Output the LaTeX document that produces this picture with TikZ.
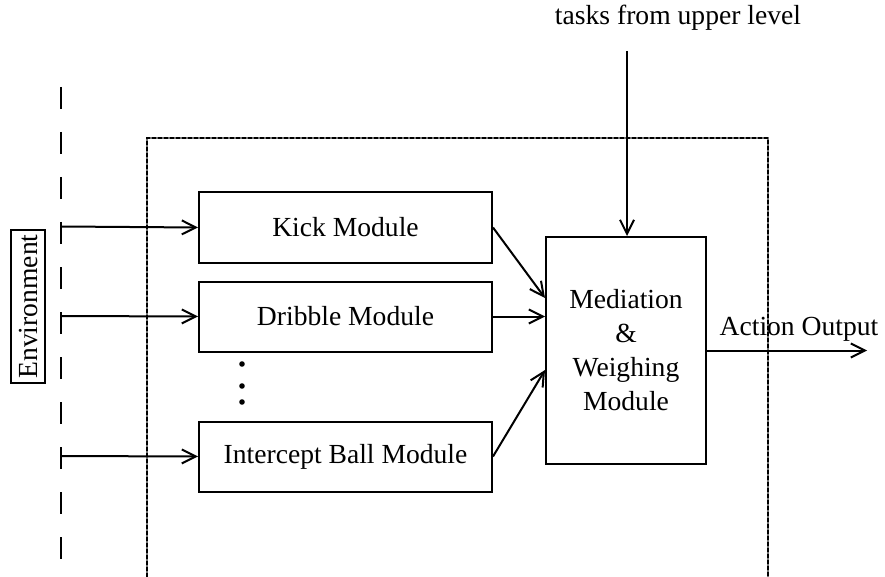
\documentclass[tikz,border=0pt]{standalone}
\usepackage{fontspec}
\setmainfont{Liberation Serif}
\usetikzlibrary{arrows.meta}
\tikzset{
  base/.style={line width=2pt},
  arr/.style={base,-{Straight Barb[length=14pt,width=14pt,line width=2pt]}},
  mod/.style={draw,base,inner sep=0pt,minimum width=293pt,minimum height=70pt,
    font=\fontsize{27.6}{34}\selectfont},
  lbl/.style={inner sep=0pt,font=\fontsize{27.6}{34}\selectfont},
}
\begin{document}
\begin{tikzpicture}[x=1pt,y=-1pt]
\useasboundingbox (0,0) rectangle (885,577);
% big enclosing box (open at bottom)
\draw[base,black!55] (147,577) -- (147,138) -- (768,138) -- (768,577);
\draw[base,dash pattern=on 4pt off 2pt] (147,577) -- (147,138) -- (768,138) -- (768,577);
% environment boundary
\draw[base,dash pattern=on 22pt off 23pt] (61,87) -- (61,577);
\node[draw,line width=1.4pt,rotate=90,inner sep=0pt,minimum width=153pt,minimum height=34pt,
  font=\fontsize{27.6}{34}\selectfont] (env) at (28,306.5) {Environment};
% modules
\node[mod] (kick) at (345.5,227.5) {Kick Module};
\node[mod] (drb) at (345.5,316.5) {Dribble Module};
\node[mod] (icp) at (345.5,456.5) {Intercept Ball Module};
\node[draw,base,inner sep=0pt,minimum width=160pt,minimum height=227pt,align=center,
  font=\fontsize{27.6}{34}\selectfont] (med) at (626,350.5) {Mediation\\\&\\Weighing\\Module};
% dots
\fill (242,364) circle[radius=2.8pt];
\fill (242,386) circle[radius=2.8pt];
\fill (242,402) circle[radius=2.8pt];
% environment inputs
\coordinate (e1) at (61,226.5);
\coordinate (e2) at (61,316);
\coordinate (e3) at (61,456);
\draw[arr] (e1) -- (kick.west);
\draw[arr] (e2) -- (drb.west);
\draw[arr] (e3) -- (icp.west);
% to mediation
\draw[arr] (kick.east) -- ([yshift=52.5pt]med.west);
\draw[arr] (drb.east) -- (med.west |- drb.east);
\draw[arr] (icp.east) -- ([yshift=-19.5pt]med.west);
% top input
\node[lbl,anchor=base] (task) at (678,25) {tasks from upper level};
\coordinate (tin) at (627,51);
\draw[arr] (tin) -- (med.north -| tin);
% output
\coordinate (out) at (867,350.5);
\draw[arr] (med.east) -- (out);
\node[lbl,anchor=base] (act) at (799,335) {Action Output};
\end{tikzpicture}
\end{document}
